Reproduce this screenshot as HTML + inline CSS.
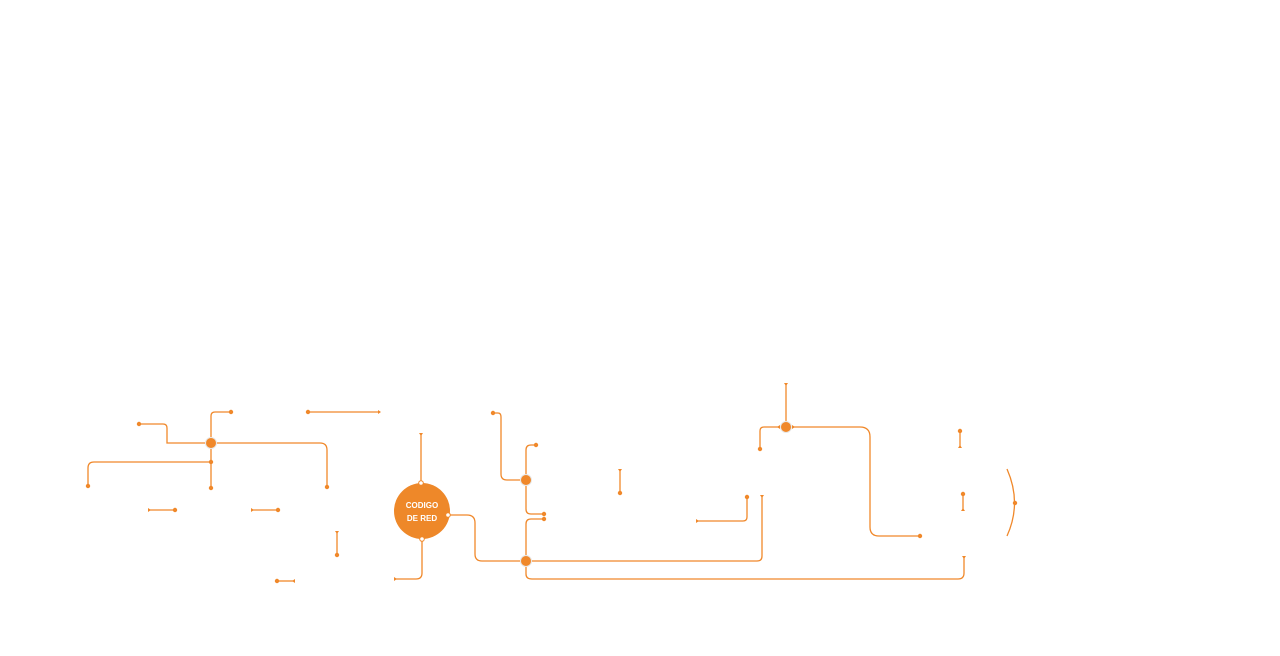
<!DOCTYPE html>
<html><head><meta charset="utf-8"><style>
html,body{margin:0;padding:0;background:#fff;width:1280px;height:656px;overflow:hidden}
svg{display:block}
</style></head><body>
<svg width="1280" height="656" viewBox="0 0 1280 656" xmlns="http://www.w3.org/2000/svg">
<g fill="none" stroke="#f0882a" stroke-width="1.3">
<path d="M211 443 V416 Q211 412 215 412 H231"/>
<path d="M139 424 H163 Q167 424 167 428 V443 H211"/>
<path d="M211 443 H320 Q327 443 327 450 V487"/>
<path d="M211 443 V488"/>
<path d="M211 462 H94 Q88 462 88 468 V486"/>
<path d="M308 412 H380"/>
<path d="M149 510 H175"/>
<path d="M252 510 H278"/>
<path d="M337 533 V555"/>
<path d="M277 581 H293"/>
<path d="M421 434 V483"/>
<path d="M448 515 H467 Q475 515 475 523 V554 Q475 561 482 561 H526"/>
<path d="M422 539 V573 Q422 579 416 579 H395"/>
<path d="M493 413 H498 Q501 413 501 417 V474 Q501 480 507 480 H526"/>
<path d="M526 480 V450 Q526 445 531 445 H536"/>
<path d="M526 480 V509 Q526 514 531 514 H544"/>
<path d="M544 519 H531 Q526 519 526 524 V561"/>
<path d="M526 561 H757 Q762 561 762 556 V497"/>
<path d="M526 561 V574 Q526 579 532 579 H958 Q964 579 964 573 V557"/>
<path d="M697 521 H743 Q747 521 747 517 V497"/>
<path d="M786 384 V427"/>
<path d="M786 427 H764 Q760 427 760 431 V449"/>
<path d="M786 427 H860 Q870 427 870 437 V527 Q870 536 879 536 H920"/>
<path d="M620 470 V493"/>
<path d="M960 431 V447"/>
<path d="M963 494 V510"/>
<path d="M1007 469 Q1022 503 1007 536"/>
</g>
<g fill="#f0882a" stroke="#e8e8e8" stroke-width="1">
<circle cx="211" cy="443" r="5.5"/>
<circle cx="526" cy="480" r="5.5"/>
<circle cx="526" cy="561" r="5.5"/>
<circle cx="786" cy="427" r="5.5"/>
</g>
<g fill="#f0882a">
<circle cx="231" cy="412" r="2.2"/><circle cx="139" cy="424" r="2.2"/>
<circle cx="327" cy="487" r="2.2"/><circle cx="211" cy="462" r="2.2"/>
<circle cx="211" cy="488" r="2.2"/><circle cx="88" cy="486" r="2.2"/>
<circle cx="308" cy="412" r="2.2"/><path d="M378 410 l3 2 -3 2z"/>
<path d="M148 508 l3 2 -3 2z"/><circle cx="175" cy="510" r="2.2"/>
<path d="M251 508 l3 2 -3 2z"/><circle cx="278" cy="510" r="2.2"/>
<path d="M335 531 h4 l-2 3z"/><circle cx="337" cy="555" r="2.2"/>
<circle cx="277" cy="581" r="2.2"/><path d="M295 579 l-3 2 3 2z"/>
<path d="M419 433 h4 l-2 3z"/><path d="M394 577 l3 2 -3 2z"/>
<circle cx="493" cy="413" r="2.2"/><circle cx="536" cy="445" r="2.2"/>
<circle cx="544" cy="514" r="2.2"/><circle cx="544" cy="519" r="2.2"/>
<path d="M760 495 h4 l-2 3z"/><circle cx="747" cy="497" r="2.2"/>
<path d="M696 519 l3 2 -3 2z"/>
<path d="M962 556 h4 l-2 3z"/>
<path d="M784 383 h4 l-2 3z"/><circle cx="760" cy="449" r="2.2"/>
<path d="M780 425 l-3 2 3 2z"/><path d="M792 425 l3 2 -3 2z"/>
<circle cx="920" cy="536" r="2.2"/>
<path d="M618 469 h4 l-2 3z"/><circle cx="620" cy="493" r="2.2"/>
<circle cx="960" cy="431" r="2.2"/><path d="M958 448 h4 l-2 -3z"/>
<circle cx="963" cy="494" r="2.2"/><path d="M961 511 h4 l-2 -3z"/>
<circle cx="1015" cy="503" r="2.2"/>
</g>
<circle cx="422" cy="511" r="28" fill="#ee8829"/>
<g fill="#fff" stroke="#f0882a" stroke-width="1">
<circle cx="421" cy="483" r="2.3"/><circle cx="448" cy="515" r="2.3"/><circle cx="422" cy="539" r="2.3"/>
</g>
<text x="422" y="508" text-anchor="middle" font-family="Liberation Sans, sans-serif" font-size="8" font-weight="bold" fill="#fff">CODIGO</text>
<text x="422" y="521" text-anchor="middle" font-family="Liberation Sans, sans-serif" font-size="8" font-weight="bold" fill="#fff">DE RED</text>
</svg>
</body></html>
